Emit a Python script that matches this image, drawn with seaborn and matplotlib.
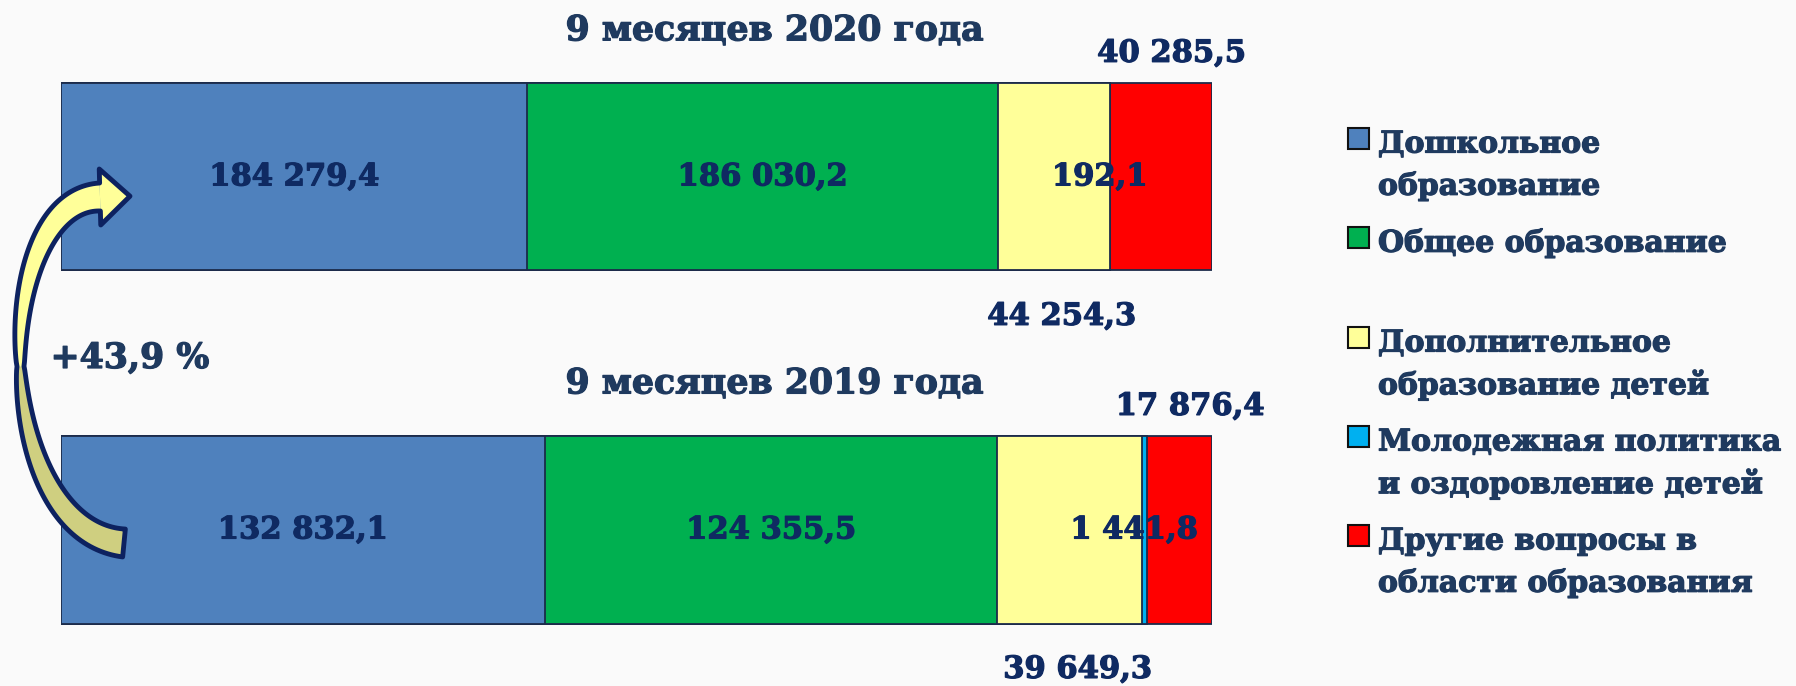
import numpy as np
import pandas as pd
import seaborn as sns
import matplotlib.pyplot as plt
import matplotlib.patheffects as pe
from matplotlib.patches import Polygon, Rectangle

# data
periods = ['9 месяцев 2020 года', '9 месяцев 2019 года']
categories = ['Дошкольное\nобразование', 'Общее образование',
              'Дополнительное\nобразование детей',
              'Молодежная политика\nи оздоровление детей',
              'Другие вопросы в\nобласти образования']
values_2020 = [184279.4, 186030.2, 44254.3, 192.1, 40285.5]
values_2019 = [132832.1, 124355.5, 39649.3, 1441.8, 17876.4]
labels_2020 = ['184 279,4', '186 030,2', '44 254,3', '192,1', '40 285,5']
labels_2019 = ['132 832,1', '124 355,5', '39 649,3', '1 441,8', '17 876,4']
growth_label = '+43,9 %'

colors = ['#4F81BD', '#00B050', '#FFFF99', '#00B0F0', '#FF0000']
# where each value label sits relative to its segment
label_place = ['in', 'in', 'below', 'mid', 'above']

rows = []
for p, vals, labs in [(periods[0], values_2020, labels_2020), (periods[1], values_2019, labels_2019)]:
    total = sum(vals)
    cum = np.cumsum(vals) / total * 100
    for i, c in enumerate(categories):
        rows.append(dict(period=p, category=c, value=vals[i], label=labs[i],
                         cum=cum[i], start=cum[i] - vals[i] / total * 100, idx=i))
df = pd.DataFrame(rows)

W, H = 1796, 686
bg = '#FAFAFA'
txt_col = '#1F3A5F'
num_col = '#0F2A62'
edge = '#1C2B4A'

sns.set_theme(style='white')
plt.rcParams['font.family'] = ['DejaVu Serif']
plt.rcParams['font.weight'] = 'bold'


def heavy(col):
    # thicken the glyphs a little, the original font is heavier
    return [pe.withStroke(linewidth=0.9, foreground=col)]


fig = plt.figure(figsize=(W / 100, H / 100), dpi=100, facecolor=bg)

# main axes: bars from x=61 to x=1212 px, bar centres at y=177 and 530 px
ax = fig.add_axes([61 / W, 0, (1212 - 61) / W, 1])
ax.set_facecolor('none')
for i in reversed(range(len(categories))):
    sub = df[df['idx'] == i]
    sns.barplot(data=sub, x='cum', y='period', order=periods, orient='h',
                color=colors[i], saturation=1, width=0.53, errorbar=None,
                edgecolor=edge, linewidth=1.3, ax=ax)
ax.set_xlim(0, 100)
ax.set_ylim(1.442, -0.501)
ax.axis('off')

for _, r in df.iterrows():
    yc = periods.index(r['period'])
    xc = (r['start'] + r['cum']) / 2
    place = label_place[r['idx']]
    if place == 'in':
        x, y = xc, yc
    elif place == 'mid':
        x, y = xc - 0.9, yc
    elif place == 'below':
        x, y = xc + 0.7, yc + 0.395
    else:
        x, y = xc + 0.9, yc - 0.35
    ax.text(x, y, r['label'], ha='center', va='center', fontsize=22,
            color=num_col, fontweight='bold', path_effects=heavy(num_col))

# period titles
for yc, p in enumerate(periods):
    ax.text(62.0, yc - 0.415, p, ha='center', va='center', fontsize=25,
            color=txt_col, fontweight='bold', path_effects=heavy(txt_col))

# overlay in pixel coordinates for arrow and legend
ov = fig.add_axes([0, 0, 1, 1])
ov.set_xlim(0, W)
ov.set_ylim(H, 0)
ov.set_facecolor('none')
ov.axis('off')

# curved ribbon arrow (2019 -> 2020), cubic centre line
P = np.array([[124, 543], [-10, 530], [-10, 200], [100, 197]], dtype=float)
t = np.linspace(0, 1, 121)[:, None]
cl = ((1 - t) ** 3 * P[0] + 3 * (1 - t) ** 2 * t * P[1]
      + 3 * (1 - t) * t ** 2 * P[2] + t ** 3 * P[3])
d = (-3 * (1 - t) ** 2 * P[0] + 3 * (1 - 4 * t + 3 * t ** 2) * P[1]
     + 3 * (2 * t - 3 * t ** 2) * P[2] + 3 * t ** 2 * P[3])
d = d / np.linalg.norm(d, axis=1, keepdims=True)
nrm = np.column_stack([-d[:, 1], d[:, 0]])
wid = 14 * (0.25 + 0.75 * np.abs(2 * t - 1) ** 0.7)
left = cl + nrm * wid
right = cl - nrm * wid
half = 60
ov.add_patch(Polygon(np.vstack([left[:half + 1], right[:half + 1][::-1]]),
                     facecolor='#CFCF80', edgecolor='none', zorder=5))
ov.add_patch(Polygon(np.vstack([left[half:], right[half:][::-1]]),
                     facecolor='#FFFF99', edgecolor='none', zorder=5))
tip_dir = d[-1]
tip_n = nrm[-1]
base = cl[-1]
head = [left[-1], base + tip_n * 28, base + tip_dir * 30, base - tip_n * 28, right[-1]]
ov.add_patch(Polygon(np.array(head), facecolor='#FFFF99', edgecolor='none', zorder=5))
outline = np.vstack([left, head[1:4], right[::-1]])
ov.add_patch(Polygon(outline, closed=True, facecolor='none', edgecolor='#0D2260',
                     linewidth=3.5, joinstyle='round', zorder=6))

ov.text(130, 358, growth_label, ha='center', va='center', fontsize=25,
        color=txt_col, fontweight='bold', path_effects=heavy(txt_col))

# legend
leg_y = [141, 240, 340, 439, 538]
for i, c in enumerate(categories):
    ov.add_patch(Rectangle((1348, leg_y[i] - 13), 21, 21, facecolor=colors[i],
                           edgecolor='#111111', linewidth=1.5))
    for j, line in enumerate(c.split('\n')):
        ov.text(1378, leg_y[i] + j * 42, line, ha='left', va='center_baseline',
                fontsize=21.5, color=txt_col, fontweight='bold',
                path_effects=heavy(txt_col))

fig.savefig('out.png', dpi=100, facecolor=bg)
